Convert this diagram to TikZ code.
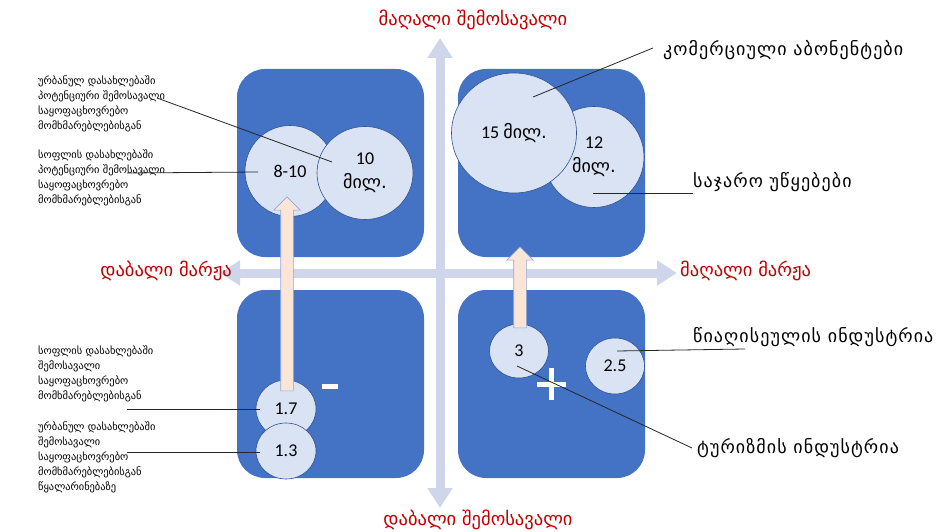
\documentclass[tikz,border=0pt]{standalone}
\usepackage{fontspec}
\setmainfont{Carlito}
\newfontfamily\geo{DejaVu Sans}
\newfontfamily\geowide{DejaVu Sans}[LetterSpace=6]
\usetikzlibrary{shapes.geometric,shapes.arrows,arrows.meta}

\definecolor{boxblue}{HTML}{4472C4}
\definecolor{bubblefill}{HTML}{DAE3F3}
\definecolor{bubbleline}{HTML}{2F528F}
\definecolor{axiscol}{HTML}{CFD5EA}
\definecolor{liftfill}{HTML}{FBE5D6}
\definecolor{liftline}{HTML}{8FAADC}
\definecolor{axislabel}{HTML}{C00000}

\tikzset{
  quadrant/.style={fill=boxblue, rounded corners=28pt},
  axis/.style={line width=9pt, draw=axiscol,
    {Triangle[width=24pt,length=20pt]}-{Triangle[width=24pt,length=20pt]}},
  bubble/.style={ellipse, draw=bubbleline, fill=bubblefill, line width=0.6pt,
    inner sep=0pt, align=center, font=\fontsize{18}{24}\selectfont},
  lift/.style={single arrow, draw=liftline, fill=liftfill, line width=0.6pt,
    rotate=90, inner sep=6pt, single arrow head extend=7pt},
  leader/.style={draw=black!85, line width=0.8pt},
  note/.style={anchor=north west, align=left, inner sep=0pt,
    font=\geo\fontsize{10.4}{15}\selectfont},
  axlabel/.style={text=axislabel, inner sep=0pt, font=\geo\fontsize{18.5}{22}\selectfont},
  sidelabel/.style={anchor=west, inner sep=0pt, font=\geowide\fontsize{18}{22}\selectfont},
}

\begin{document}
\begin{tikzpicture}[x=1pt,y=-1pt]
    \useasboundingbox (0,0) rectangle (940,532);

    % quadrants
    \foreach \x/\y in {237/69, 458/69, 237/290, 458/290} {
        \fill[quadrant] (\x,\y) rectangle ++(187,188);
    }

    % axes
    \coordinate (vtop) at (440,38);
    \coordinate (vbot) at (440,508);
    \coordinate (hleft) at (220,273);
    \coordinate (hright) at (677,273);
    \draw[axis] (vbot) -- (vtop);
    \draw[axis] (hleft) -- (hright);

    % bubbles
    \node[bubble, minimum width=90pt, minimum height=91pt] (b810) at (290,171) {8-10};
    \node[bubble, minimum width=96pt, minimum height=93pt] (b10) at (365,173) {10\\{\geo მილ.}};
    \node[bubble, minimum width=100pt, minimum height=101pt] (b12) at (594,157) {12\\{\geo მილ.}};
    \node[bubble, minimum width=125pt, minimum height=120pt] (b15) at (514,133) {15 {\geo მილ.}};
    \node[bubble, minimum width=60pt, minimum height=58pt] (b17) at (286,409) {1.7};
    \node[bubble, minimum width=60pt, minimum height=56pt] (b13) at (286,451) {1.3};
    \node[bubble, minimum width=59pt, minimum height=54pt] (b3) at (519,351) {3};
    \node[bubble, minimum width=59pt, minimum height=56pt] (b25) at (615,366) {2.5};

    % lift arrows
    \node[lift, minimum height=194pt] (up1) at (287,297) {};
    \node[lift, minimum height=81pt] (up2) at (520,290.5) {};

    % signs
    \fill[white] (322,383.5) rectangle (338,388.5);
    \fill[white] (537,381.5) rectangle (566,386.5);
    \fill[white] (548.5,368) rectangle (553.5,400);

    % axis labels
    \node[axlabel] (hiinc) at (473,20) {მაღალი შემოსავალი};
    \node[axlabel] (loinc) at (478,520) {დაბალი შემოსავალი};
    \node[axlabel, anchor=east] (lomar) at (232,271) {დაბალი მარჟა};
    \node[axlabel, anchor=west] (himar) at (680,271) {მაღალი მარჟა};

    % left notes
    \node[note] (urbpot) at (38,76) {ურბანულ დასახლებაში\\პოტენციური შემოსავალი\\საყოფაცხოვრებო\\მომხმარებლებისგან};
    \node[note] (rurpot) at (38,150) {სოფლის დასახლებაში\\პოტენციური შემოსავალი\\საყოფაცხოვრებო\\მომხმარებლებისგან};
    \node[note] (rurinc) at (38,346) {სოფლის დასახლებაში\\შემოსავალი\\საყოფაცხოვრებო\\მომხმარებლებისგან};
    \node[note] (urbinc) at (38,422) {ურბანულ დასახლებაში\\შემოსავალი\\საყოფაცხოვრებო\\მომხმარებლებისგან\\წყალარინებაზე};

    % right labels
    \node[sidelabel] (comm) at (663,50) {კომერციული აბონენტები};
    \node[sidelabel] (publ) at (693,182) {საჯარო უწყებები};
    \node[sidelabel] (mine) at (693,337) {წიაღისეულის ინდუსტრია};
    \node[sidelabel] (tour) at (697,448) {ტურიზმის ინდუსტრია};

    % leader lines
    \coordinate (urbend) at (157,98);
    \coordinate (rurend) at (127,173);
    \coordinate (rurincend) at (127,409);
    \coordinate (urbincend) at (127,452);
    \coordinate (commend) at (653,48);
    \coordinate (publend) at (693,193);
    \coordinate (mineend) at (745,349);
    \coordinate (tourend) at (692,448);
    \draw[leader] (urbend) -- ([shift={(-33,-11)}]b10.center);
    \draw[leader] (rurend) -- ([shift={(-32,1)}]b810.center);
    \draw[leader] (rurincend) -- ([shift={(-26,0)}]b17.center);
    \draw[leader] (urbincend) -- ([shift={(-26,1)}]b13.center);
    \draw[leader] (commend) -- ([shift={(19,-36)}]b15.center);
    \draw[leader] ([shift={(-1,36)}]b12.center) -- (publend);
    \draw[leader] ([shift={(2,-15)}]b25.center) -- (mineend);
    \draw[leader] ([shift={(-2,15)}]b3.center) -- (tourend);
\end{tikzpicture}
\end{document}
